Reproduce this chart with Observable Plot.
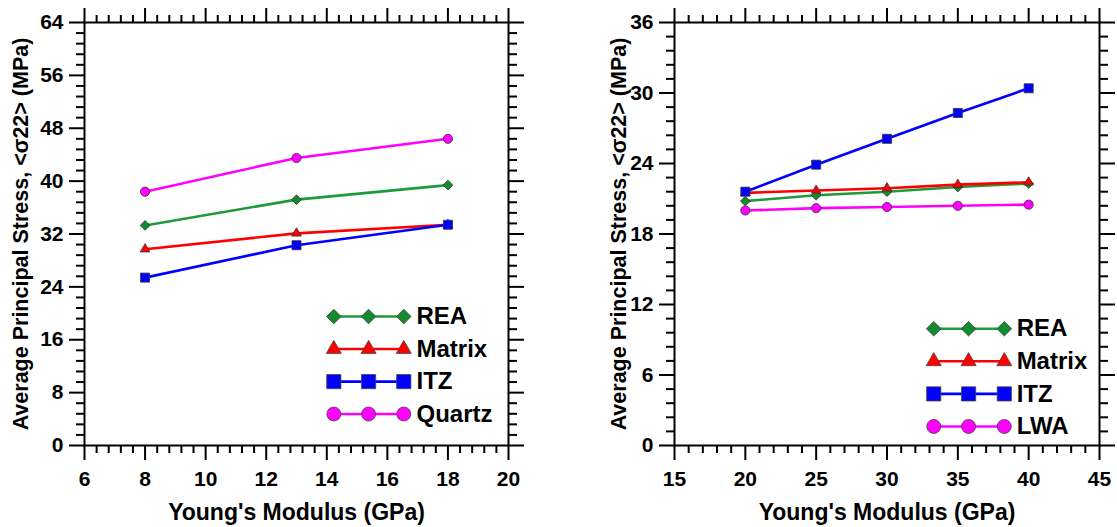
<!DOCTYPE html>
<html><head><meta charset="utf-8">
<script src="https://cdn.jsdelivr.net/npm/d3@7"></script>
<script src="https://cdn.jsdelivr.net/npm/@observablehq/plot@0.6"></script>
<style>
body{margin:0;background:#fff;}
#wrap{position:relative;width:1117px;height:527px;overflow:hidden;background:#fff;}
#left{position:absolute;left:0;top:0;}
#right{position:absolute;left:590px;top:0;}
svg{font-family:"Liberation Sans",Arial,sans-serif;font-weight:bold;}
svg text{fill:#000;font-weight:bold;}
g[aria-label="x-axis tick label"] text, g[aria-label="y-axis tick label"] text{font-size:21px;}
g[aria-label="x-axis label"] text{font-size:23px;}
g[aria-label="y-axis label"] text{font-size:21.5px;}
</style>
</head><body><div id="wrap"><div id="left"></div><div id="right"></div></div>
<script>
// ---- data: left panel ----
const leftX = [8, 13, 18];
const leftREA = [33.3, 37.2, 39.4];
const leftMatrix = [29.7, 32.1, 33.4];
const leftITZ = [25.4, 30.3, 33.4];
const leftQuartz = [38.4, 43.5, 46.4];
const leftNames = ["REA", "Matrix", "ITZ", "Quartz"];
const leftXTicks = [6, 8, 10, 12, 14, 16, 18, 20];
const leftYTicks = [0, 8, 16, 24, 32, 40, 48, 56, 64];

// ---- data: right panel ----
const rightX = [20, 25, 30, 35, 40];
const rightREA = [20.8, 21.3, 21.6, 22.0, 22.3];
const rightMatrix = [21.5, 21.7, 21.9, 22.2, 22.4];
const rightITZ = [21.6, 23.9, 26.1, 28.3, 30.4];
const rightLWA = [20.0, 20.2, 20.3, 20.4, 20.5];
const rightNames = ["REA", "Matrix", "ITZ", "LWA"];
const rightXTicks = [15, 20, 25, 30, 35, 40, 45];
const rightYTicks = [0, 6, 12, 18, 24, 30, 36];

const xLabel = "Young's Modulus (GPa)";
const yLabel = "Average Principal Stress, <σ22> (MPa)";

// ---- styles ----
const styles = {
  REA:    {stroke: "#1f9a3a", fill: "#128a2e", symbol: "diamond2", r: 4.4, lr: 6.6},
  Matrix: {stroke: "#ff0000", fill: "#ff0000", symbol: "triangle2", r: 4.6, lr: 7.2},
  ITZ:    {stroke: "#0000ff", fill: "#0000ff", symbol: "square", r: 5.1, lr: 8},
  Quartz: {stroke: "#ff00ff", fill: "#ff00ff", symbol: "circle", r: 4.6, lr: 7},
  LWA:    {stroke: "#ff00ff", fill: "#ff00ff", symbol: "circle", r: 4.6, lr: 7}
};

function minorTicks(major, n) {
  const out = [];
  for (let i = 0; i < major.length - 1; i++) {
    const a = major[i], b = major[i + 1];
    for (let k = 1; k < n; k++) out.push(a + (b - a) * k / n);
  }
  return out;
}

function panel(o) {
  const [x0, x1] = o.xDomain, [y0, y1] = o.yDomain;
  const fx = f => x0 + f * (x1 - x0), fy = f => y0 + f * (y1 - y0);
  const xMinor = minorTicks(o.xTicks, 5), yMinor = minorTicks(o.yTicks, 5);
  const blank = () => "";
  const marks = [
    Plot.axisX(xMinor, {anchor: "bottom", tickSize: 8, strokeWidth: 2, tickFormat: blank, label: null}),
    Plot.axisX(xMinor, {anchor: "top", tickSize: 8, strokeWidth: 2, tickFormat: blank, label: null}),
    Plot.axisY(yMinor, {anchor: "left", tickSize: 8, strokeWidth: 2, tickFormat: blank, label: null}),
    Plot.axisY(yMinor, {anchor: "right", tickSize: 8, strokeWidth: 2, tickFormat: blank, label: null}),
    Plot.axisX(o.xTicks, {anchor: "top", tickSize: 15, strokeWidth: 2, tickFormat: blank, label: null}),
    Plot.axisY(o.yTicks, {anchor: "right", tickSize: 15, strokeWidth: 2, tickFormat: blank, label: null}),
    Plot.axisX(o.xTicks, {anchor: "bottom", tickSize: 15, tickPadding: 11, strokeWidth: 2, fontSize: 21, fontWeight: "bold",
      tickFormat: d => String(d), label: xLabel, labelAnchor: "center", labelArrow: "none", labelOffset: 74}),
    Plot.axisY(o.yTicks, {anchor: "left", tickSize: 15, tickPadding: 6, strokeWidth: 2, fontSize: 21, fontWeight: "bold",
      tickFormat: d => String(d), label: yLabel, labelAnchor: "center", labelArrow: "none", labelOffset: o.yLabelOffset}),
    Plot.frame({stroke: "#000", strokeWidth: 2})
  ];
  o.series.forEach(s => {
    const st = styles[s.name];
    const rows = o.x.map((x, i) => ({x, y: s.values[i]}));
    marks.push(Plot.line(rows, {x: "x", y: "y", stroke: st.stroke, strokeWidth: 2.6}));
    marks.push(Plot.dot(rows, {x: "x", y: "y", symbol: st.symbol, r: st.r, fill: st.fill, stroke: "#333", strokeWidth: 0.8}));
  });
  // legend
  o.series.forEach((s, i) => {
    const st = styles[s.name];
    const y = fy(o.legendY[i]);
    const pts = o.legendX.slice(0, 3).map(f => ({x: fx(f), y}));
    marks.push(Plot.line(pts, {x: "x", y: "y", stroke: st.stroke, strokeWidth: 2.6}));
    marks.push(Plot.dot(pts, {x: "x", y: "y", symbol: st.symbol, r: st.lr, fill: st.fill, stroke: "#444", strokeWidth: 0.8}));
    marks.push(Plot.text([{x: fx(o.legendX[3]), y, label: s.name}], {x: "x", y: "y", text: "label", textAnchor: "start",
      fontSize: 24, fontWeight: "bold", fill: "#000"}));
  });
  return Plot.plot({
    width: o.width, height: 527,
    marginTop: 22, marginBottom: 82, marginLeft: 84, marginRight: o.marginRight,
    x: {domain: o.xDomain}, y: {domain: o.yDomain},
    style: {fontFamily: "Liberation Sans, Arial, sans-serif", background: "transparent", color: "#000"},
    marks
  });
}

document.getElementById("left").appendChild(panel({
  width: 590, marginRight: 82, xDomain: [6, 20], yDomain: [0, 64],
  xTicks: leftXTicks, yTicks: leftYTicks, x: leftX, yLabelOffset: 72,
  series: [
    {name: leftNames[0], values: leftREA},
    {name: leftNames[1], values: leftMatrix},
    {name: leftNames[2], values: leftITZ},
    {name: leftNames[3], values: leftQuartz}
  ],
  legendX: [0.588, 0.670, 0.753, 0.783],
  legendY: [0.305, 0.228, 0.151, 0.0745]
}));

document.getElementById("right").appendChild(panel({
  width: 527, marginRight: 18, xDomain: [15, 45], yDomain: [0, 36],
  xTicks: rightXTicks, yTicks: rightYTicks, x: rightX, yLabelOffset: 64,
  series: [
    {name: rightNames[0], values: rightREA},
    {name: rightNames[1], values: rightMatrix},
    {name: rightNames[2], values: rightITZ},
    {name: rightNames[3], values: rightLWA}
  ],
  legendX: [0.610, 0.692, 0.776, 0.805],
  legendY: [0.276, 0.199, 0.122, 0.045]
}));
</script>
</body></html>
